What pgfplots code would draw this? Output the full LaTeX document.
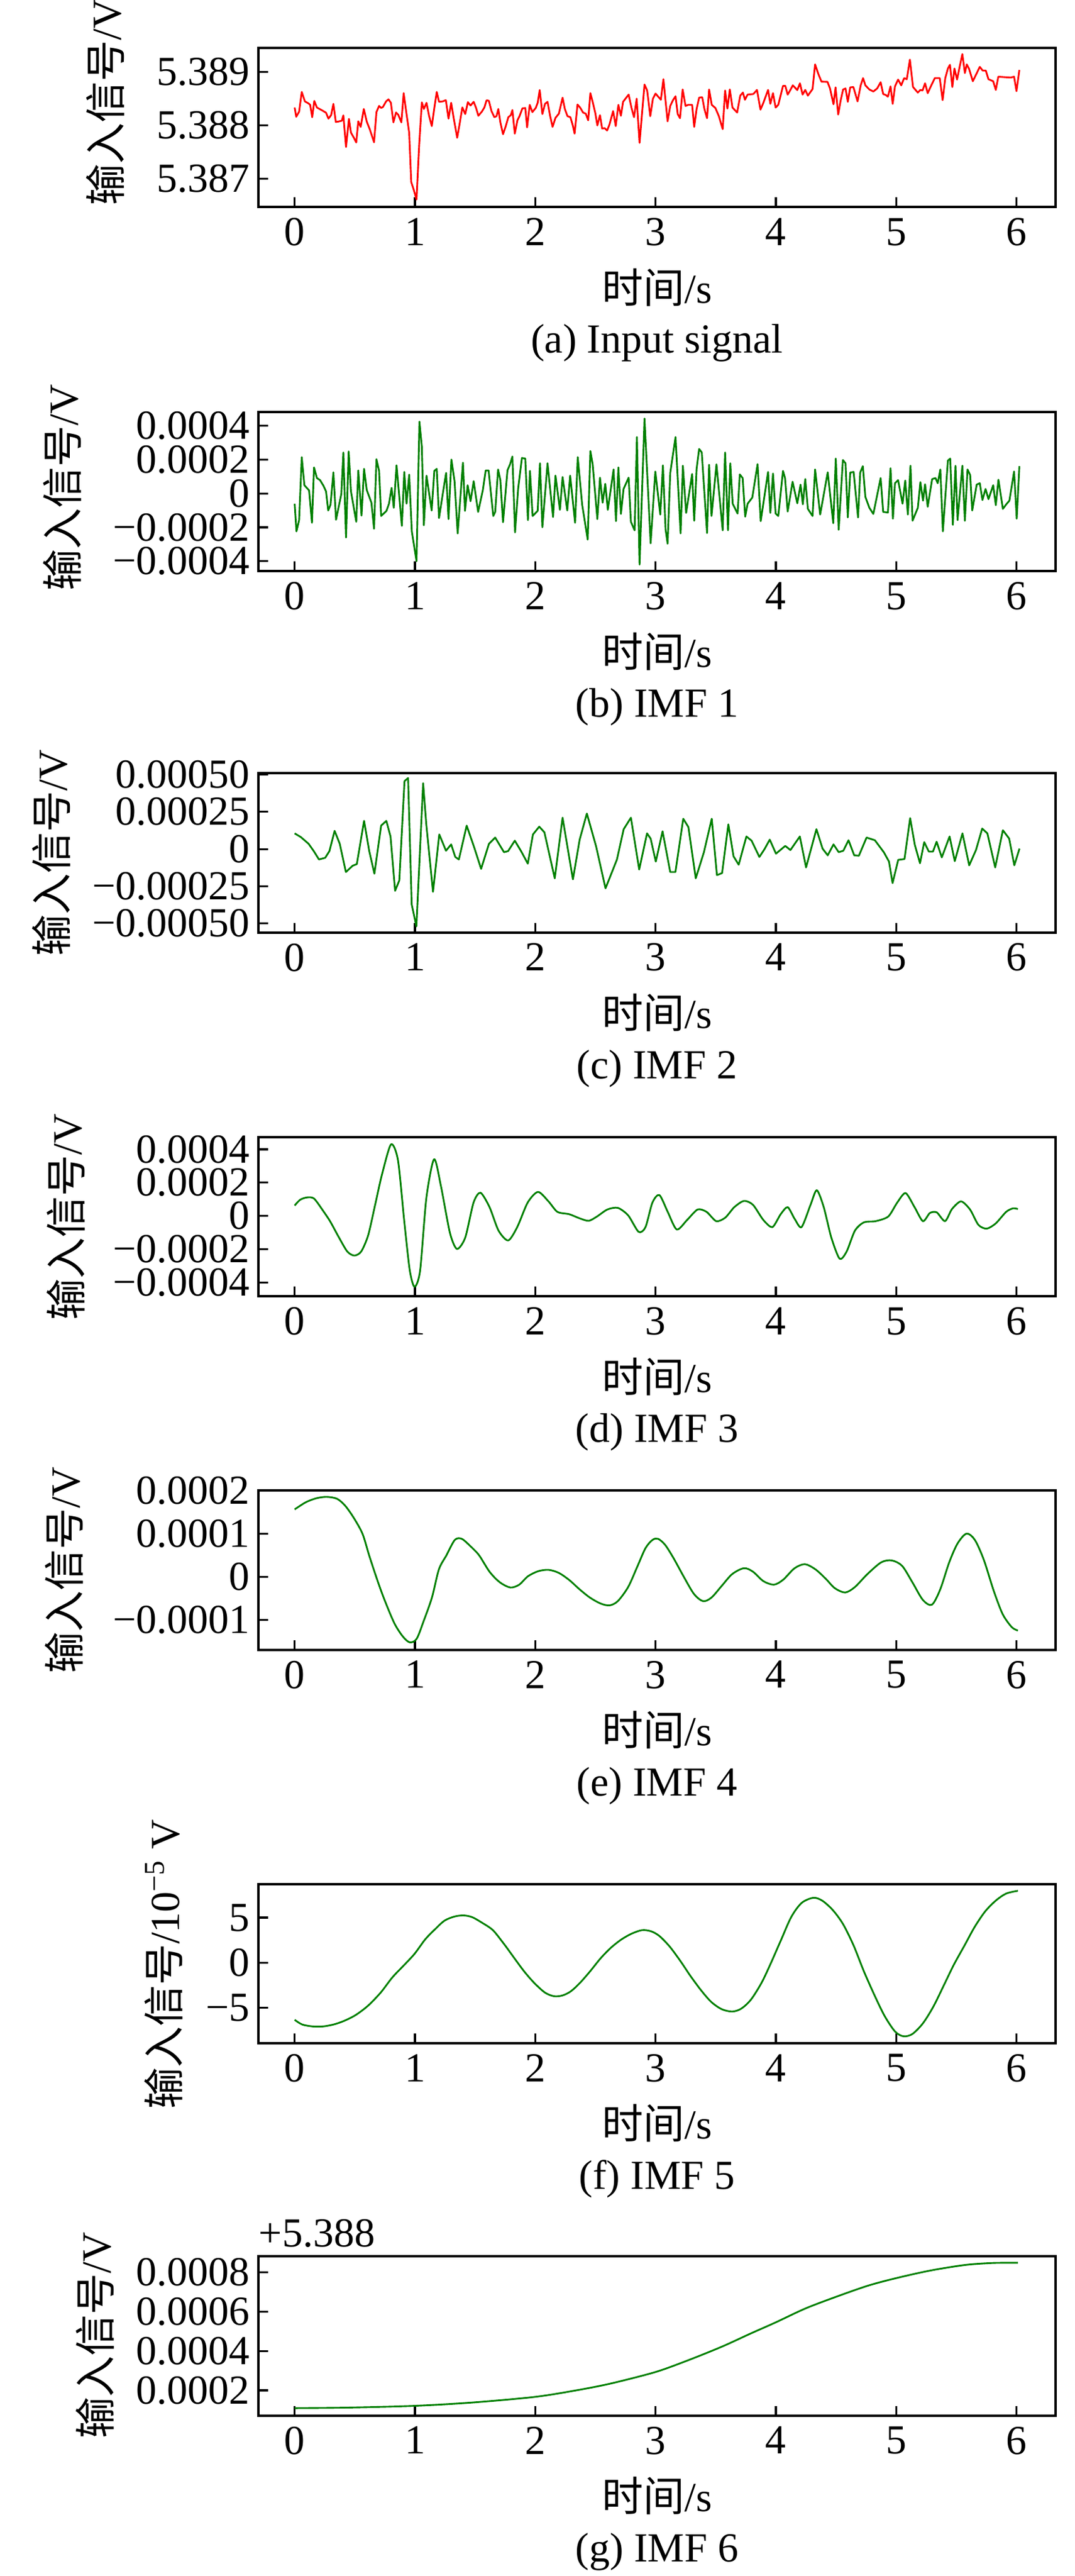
\documentclass[border=0pt]{standalone}
\usepackage{fontspec}
\setmainfont{Liberation Serif}
\newfontfamily\cjk{Noto Sans CJK SC}
\usepackage{pgfplots}
\pgfplotsset{compat=1.18}
\definecolor{mplred}{RGB}{255,0,0}
\definecolor{mplgreen}{RGB}{0,128,0}
\newcommand\F{\fontsize{17}{20}\selectfont}
\tikzset{subcap/.style={font=\F, anchor=center, yshift=-56pt}}
\pgfplotsset{
 myaxis/.style={
  width=328.5pt, height=65.6pt, scale only axis,
  anchor=north west, clip=false,
  xmin=-0.301, xmax=6.325,
  xtick={0,1,2,3,4,5,6}, xticklabels={0,1,2,3,4,5,6},
  tick align=inside, xtick pos=bottom, ytick pos=left,
  major tick length=4pt,
  tick style={black, line width=0.8pt},
  axis line style={line width=1pt},
  scaled ticks=false,
  tick label style={font=\F},
  xticklabel style={yshift=-1pt},
  label style={font=\F, inner sep=1pt},
  xlabel={{\cjk 时间}/s},
  xlabel style={at={(axis description cs:0.5,0)}, anchor=center, yshift=-33pt},
  every axis plot/.append style={line width=0.72pt, line join=round},
 },
}
\begin{document}
\begin{tikzpicture}
\useasboundingbox (0,0) rectangle (443pt,-1061.25pt);

% (a) Input signal
\begin{axis}[myaxis, at={(106.5pt,-19.75pt)},
  ymin=5.38647, ymax=5.38945,
  ytick={5.387,5.388,5.389}, yticklabels={5.387,5.388,5.389},
  ylabel={{\cjk 输入信号}/V},
  ylabel style={at={(axis description cs:-0.1918,0.66)}, anchor=center}]
\addplot[mplred] coordinates {
(0,5.388335) (0.013,5.388162) (0.037,5.388258) (0.059,5.388627) (0.085,5.388450) (0.115,5.388412) (0.129,5.388385) (0.146,5.388154) (0.163,5.388458) (0.185,5.388335)
(0.229,5.388281) (0.261,5.388238) (0.281,5.388127) (0.303,5.388192) (0.322,5.388404) (0.342,5.388065) (0.364,5.388073) (0.392,5.388088) (0.405,5.388188) (0.427,5.387596)
(0.451,5.388123) (0.468,5.387865) (0.495,5.387758) (0.512,5.387681) (0.529,5.388077) (0.549,5.387973) (0.575,5.388308) (0.599,5.388073) (0.625,5.387923) (0.660,5.387685)
(0.680,5.388250) (0.702,5.388365) (0.719,5.388327) (0.734,5.388346) (0.760,5.388450) (0.780,5.388488) (0.800,5.388423) (0.821,5.388058) (0.843,5.388242) (0.861,5.388200)
(0.887,5.388058) (0.906,5.388604) (0.930,5.388212) (0.952,5.387865) (0.969,5.386942) (0.991,5.386788) (1.013,5.386615) (1.035,5.387635) (1.057,5.388431) (1.074,5.388308)
(1.096,5.388423) (1.118,5.388173) (1.140,5.387988) (1.161,5.388327) (1.181,5.388627) (1.200,5.388442) (1.231,5.388450) (1.257,5.388473) (1.279,5.388127) (1.301,5.388423)
(1.322,5.388135) (1.351,5.387769) (1.372,5.388038) (1.394,5.388338) (1.418,5.388212) (1.440,5.388435) (1.462,5.388373) (1.488,5.388442) (1.508,5.388327) (1.527,5.388181)
(1.556,5.388258) (1.577,5.388335) (1.595,5.388469) (1.614,5.388462) (1.636,5.388269) (1.660,5.388154) (1.678,5.388173) (1.693,5.388308) (1.710,5.388058) (1.732,5.387835)
(1.754,5.387981) (1.776,5.388154) (1.797,5.388192) (1.810,5.388288) (1.830,5.387846) (1.852,5.388096) (1.869,5.388173) (1.893,5.388319) (1.917,5.388327) (1.932,5.387962)
(1.954,5.388385) (1.976,5.388250) (2.004,5.388327) (2.020,5.388423) (2.037,5.388662) (2.059,5.388212) (2.081,5.388404) (2.102,5.388442) (2.124,5.388173) (2.144,5.387973)
(2.168,5.388142) (2.196,5.388219) (2.211,5.388365) (2.227,5.388519) (2.246,5.388308) (2.268,5.388173) (2.292,5.388154) (2.312,5.388000) (2.327,5.387846) (2.351,5.388392)
(2.375,5.388327) (2.397,5.388242) (2.420,5.388219) (2.440,5.388096) (2.458,5.388604) (2.477,5.388442) (2.499,5.388231) (2.516,5.388000) (2.538,5.388192) (2.556,5.387942)
(2.577,5.387950) (2.597,5.387904) (2.617,5.388019) (2.647,5.388269) (2.669,5.387988) (2.691,5.388385) (2.712,5.388181) (2.730,5.388442) (2.756,5.388519) (2.776,5.388577)
(2.800,5.388327) (2.821,5.388154) (2.843,5.388500) (2.867,5.387673) (2.887,5.388212) (2.908,5.388765) (2.930,5.388654) (2.956,5.388173) (2.978,5.388500) (3.000,5.388596)
(3.022,5.388538) (3.044,5.388481) (3.065,5.388865) (3.100,5.388077) (3.122,5.388365) (3.145,5.388473) (3.166,5.388546) (3.184,5.388212) (3.203,5.388135) (3.225,5.388673)
(3.249,5.388365) (3.271,5.388385) (3.304,5.388385) (3.321,5.387973) (3.341,5.388308) (3.362,5.388519) (3.388,5.388527) (3.406,5.388308) (3.428,5.388135) (3.445,5.388673)
(3.467,5.388385) (3.497,5.388327) (3.526,5.388173) (3.558,5.387931) (3.578,5.388654) (3.597,5.388315) (3.617,5.388673) (3.639,5.388335) (3.678,5.388242) (3.704,5.388558)
(3.726,5.388615) (3.743,5.388481) (3.765,5.388577) (3.813,5.388588) (3.843,5.388665) (3.872,5.388296) (3.896,5.388423) (3.935,5.388665) (3.954,5.388404) (3.976,5.388604)
(3.998,5.388335) (4.020,5.388385) (4.059,5.388738) (4.078,5.388742) (4.098,5.388577) (4.118,5.388654) (4.141,5.388750) (4.178,5.388662) (4.200,5.388788) (4.222,5.388577)
(4.244,5.388665) (4.266,5.388558) (4.305,5.388681) (4.326,5.389142) (4.353,5.388962) (4.379,5.388819) (4.429,5.388815) (4.450,5.388692) (4.479,5.388396) (4.496,5.388712)
(4.518,5.388204) (4.538,5.388462) (4.559,5.388673) (4.579,5.388692) (4.598,5.388442) (4.618,5.388712) (4.644,5.388719) (4.679,5.388450) (4.705,5.388750) (4.725,5.388885)
(4.744,5.388750) (4.777,5.388673) (4.810,5.388635) (4.842,5.388692) (4.871,5.388808) (4.892,5.388588) (4.914,5.388569) (4.931,5.388538) (4.953,5.388731) (4.971,5.388404)
(4.990,5.388731) (5.016,5.388858) (5.042,5.388750) (5.066,5.388885) (5.088,5.388865) (5.114,5.389231) (5.140,5.388719) (5.180,5.388615) (5.201,5.388665) (5.219,5.388654)
(5.240,5.388788) (5.262,5.388604) (5.288,5.388731) (5.321,5.388885) (5.362,5.388885) (5.386,5.388473) (5.408,5.388885) (5.430,5.389065) (5.447,5.389135) (5.467,5.388719)
(5.484,5.389065) (5.506,5.388858) (5.528,5.389104) (5.550,5.389335) (5.571,5.388981) (5.587,5.389142) (5.606,5.389058) (5.637,5.388827) (5.670,5.388981) (5.695,5.389096)
(5.719,5.389027) (5.745,5.389027) (5.767,5.388865) (5.806,5.388827) (5.828,5.388665) (5.849,5.388912) (5.897,5.388904) (5.951,5.388896) (5.980,5.388912) (6.000,5.388642)
(6.024,5.389038)
};
\node[subcap] at (axis description cs:0.5,0) {(a) Input signal};
\end{axis}

% (b) IMF 1
\begin{axis}[myaxis, at={(106.5pt,-169.75pt)},
  ymin=-4.60e-4, ymax=4.81e-4,
  ytick={-0.0004,-0.0002,0,0.0002,0.0004},
  yticklabels={−0.0004,−0.0002,0,0.0002,0.0004},
  ylabel={{\cjk 输入信号}/V},
  ylabel style={at={(axis description cs:-0.2458,0.525)}, anchor=center}]
\addplot[mplgreen] coordinates {
(0,-0.606e-4) (0.015,-2.242e-4) (0.037,-1.576e-4) (0.059,2.145e-4) (0.081,0.485e-4) (0.120,0.182e-4) (0.144,-1.733e-4) (0.161,1.539e-4) (0.185,0.909e-4) (0.211,0.788e-4)
(0.240,0.448e-4) (0.261,0.121e-4) (0.279,-1.006e-4) (0.298,-0.667e-4) (0.322,1.248e-4) (0.344,-1.552e-4) (0.388,-0.036e-4) (0.405,2.424e-4) (0.427,-2.606e-4) (0.449,2.485e-4)
(0.468,0.121e-4) (0.512,-1.673e-4) (0.529,1.358e-4) (0.556,-1.309e-4) (0.577,1.455e-4) (0.599,0.206e-4) (0.638,-0.545e-4) (0.660,-2.085e-4) (0.680,2.024e-4) (0.702,1.333e-4)
(0.719,-1.333e-4) (0.763,-1.030e-4) (0.784,-0.606e-4) (0.806,0.327e-4) (0.824,-0.848e-4) (0.847,1.661e-4) (0.891,-1.915e-4) (0.911,1.273e-4) (0.930,-0.606e-4) (0.952,1.115e-4)
(0.974,-2.242e-4) (1.013,-4.000e-4) (1.037,4.242e-4) (1.057,2.788e-4) (1.074,-1.879e-4) (1.096,1.055e-4) (1.139,-1.006e-4) (1.161,1.333e-4) (1.181,1.455e-4) (1.200,-1.455e-4)
(1.237,0.242e-4) (1.259,1.212e-4) (1.279,-1.515e-4) (1.303,2.000e-4) (1.329,0.727e-4) (1.355,-2.364e-4) (1.399,1.818e-4) (1.416,-1.030e-4) (1.438,0.485e-4) (1.462,-0.461e-4)
(1.488,0.727e-4) (1.525,-1.091e-4) (1.564,0.182e-4) (1.588,1.358e-4) (1.612,1.358e-4) (1.651,-1.333e-4) (1.667,-1.091e-4) (1.691,1.418e-4) (1.710,0.788e-4) (1.732,-1.697e-4)
(1.769,1.370e-4) (1.791,1.733e-4) (1.810,2.182e-4) (1.832,-2.303e-4) (1.858,0.303e-4) (1.889,2.097e-4) (1.917,2.061e-4) (1.939,-1.576e-4) (1.956,1.333e-4) (1.978,-1.333e-4)
(2.020,-1.030e-4) (2.039,1.782e-4) (2.059,-2.000e-4) (2.102,1.782e-4) (2.148,-1.394e-4) (2.168,1.055e-4) (2.205,-0.970e-4) (2.227,0.970e-4) (2.266,-1.006e-4) (2.290,1.055e-4)
(2.331,-1.733e-4) (2.353,2.145e-4) (2.390,-0.667e-4) (2.436,-2.727e-4) (2.458,2.509e-4) (2.477,1.733e-4) (2.516,-1.515e-4) (2.538,0.933e-4) (2.560,-0.545e-4) (2.582,0.570e-4)
(2.603,-0.970e-4) (2.651,1.418e-4) (2.671,-1.636e-4) (2.691,1.539e-4) (2.712,-1.212e-4) (2.734,0.267e-4) (2.776,0.933e-4) (2.795,-1.673e-4) (2.826,-2.182e-4) (2.845,3.333e-4)
(2.867,-4.206e-4) (2.908,4.424e-4) (2.959,-2.945e-4) (2.998,1.297e-4) (3.039,-1.248e-4) (3.061,1.661e-4) (3.083,-2.121e-4) (3.100,-2.970e-4) (3.122,1.212e-4) (3.166,3.333e-4)
(3.208,-2.364e-4) (3.227,1.636e-4) (3.254,-1.152e-4) (3.304,1.152e-4) (3.321,-1.612e-4) (3.341,1.455e-4) (3.362,2.630e-4) (3.384,2.424e-4) (3.428,-2.339e-4) (3.445,1.697e-4)
(3.465,-1.333e-4) (3.506,1.721e-4) (3.558,-2.182e-4) (3.578,2.424e-4) (3.602,-2.182e-4) (3.621,1.782e-4) (3.641,-0.606e-4) (3.682,-1.188e-4) (3.700,1.127e-4) (3.724,0.909e-4)
(3.745,-1.370e-4) (3.765,-0.606e-4) (3.804,-0.242e-4) (3.848,1.733e-4) (3.874,-1.636e-4) (3.935,1.273e-4) (3.954,-1.152e-4) (3.976,1.176e-4) (3.998,-1.188e-4) (4.020,-1.333e-4)
(4.059,1.333e-4) (4.076,0.909e-4) (4.098,-1.067e-4) (4.139,0.691e-4) (4.178,-0.582e-4) (4.205,0.521e-4) (4.224,-0.642e-4) (4.244,0.848e-4) (4.266,-0.909e-4) (4.305,-1.333e-4)
(4.326,1.418e-4) (4.368,-1.248e-4) (4.431,1.248e-4) (4.477,-1.758e-4) (4.498,2.061e-4) (4.522,-2.145e-4) (4.557,1.976e-4) (4.579,1.782e-4) (4.598,-1.418e-4) (4.618,1.236e-4)
(4.646,1.273e-4) (4.683,-1.418e-4) (4.701,1.236e-4) (4.723,1.612e-4) (4.744,-0.206e-4) (4.777,-0.848e-4) (4.810,-1.212e-4) (4.871,0.909e-4) (4.892,-1.091e-4) (4.931,-1.127e-4)
(4.953,1.491e-4) (4.973,-1.491e-4) (4.990,0.606e-4) (5.016,0.788e-4) (5.053,-0.606e-4) (5.075,0.764e-4) (5.097,-1.248e-4) (5.119,1.636e-4) (5.136,-1.612e-4) (5.180,-0.848e-4)
(5.201,0.667e-4) (5.223,-0.424e-4) (5.240,0.545e-4) (5.262,-0.788e-4) (5.299,0.848e-4) (5.327,0.909e-4) (5.345,0.606e-4) (5.367,1.418e-4) (5.388,-2.242e-4) (5.430,1.939e-4)
(5.449,2.061e-4) (5.471,-1.855e-4) (5.493,1.636e-4) (5.510,-1.576e-4) (5.550,1.636e-4) (5.571,-1.612e-4) (5.593,1.418e-4) (5.615,1.091e-4) (5.632,-1.006e-4) (5.669,0.521e-4)
(5.695,0.606e-4) (5.717,-0.388e-4) (5.743,0.267e-4) (5.767,-0.339e-4) (5.806,0.485e-4) (5.828,-0.691e-4) (5.850,0.812e-4) (5.887,-0.909e-4) (5.915,-0.642e-4) (5.941,-0.424e-4)
(5.980,1.297e-4) (6.002,-1.491e-4) (6.024,1.612e-4)
};
\node[subcap] at (axis description cs:0.5,0) {(b) IMF 1};
\end{axis}

% (c) IMF 2
\begin{axis}[myaxis, at={(106.5pt,-318.6pt)},
  ymin=-5.61e-4, ymax=5.08e-4,
  ytick={-0.0005,-0.00025,0,0.00025,0.0005},
  yticklabels={−0.00050,−0.00025,0,0.00025,0.00050},
  ylabel={{\cjk 输入信号}/V},
  ylabel style={at={(axis description cs:-0.2595,0.502)}, anchor=center}]
\addplot[mplgreen] coordinates {
(0,1.052e-4) (0.052,0.799e-4) (0.116,0.351e-4) (0.159,-0.140e-4) (0.202,-0.701e-4) (0.254,-0.589e-4) (0.289,-0.140e-4) (0.332,1.220e-4) (0.375,0.351e-4) (0.426,-1.543e-4)
(0.482,-1.122e-4) (0.517,-1.010e-4) (0.577,1.893e-4) (0.620,-0.140e-4) (0.663,-1.655e-4) (0.719,1.571e-4) (0.762,1.893e-4) (0.797,0.842e-4) (0.835,-2.805e-4) (0.870,-2.104e-4)
(0.913,4.558e-4) (0.943,4.769e-4) (0.973,-3.717e-4) (1.012,-5.189e-4) (1.068,4.418e-4) (1.094,1.683e-4) (1.150,-2.875e-4) (1.202,0.982e-4) (1.258,-0.112e-4) (1.301,0.309e-4)
(1.335,-0.533e-4) (1.365,-0.701e-4) (1.430,1.571e-4) (1.494,0.070e-4) (1.550,-1.332e-4) (1.615,0.351e-4) (1.667,0.771e-4) (1.740,-0.210e-4) (1.774,-0.140e-4) (1.830,0.561e-4)
(1.882,-0.140e-4) (1.938,-0.982e-4) (1.981,0.982e-4) (2.033,1.501e-4) (2.076,1.122e-4) (2.162,-1.964e-4) (2.227,2.104e-4) (2.313,-2.034e-4) (2.369,0.631e-4) (2.429,2.384e-4)
(2.506,0.168e-4) (2.584,-2.637e-4) (2.679,-0.701e-4) (2.735,1.332e-4) (2.795,2.104e-4) (2.864,-1.374e-4) (2.929,1.052e-4) (2.959,0.701e-4) (3.002,-0.842e-4) (3.058,1.192e-4)
(3.122,-1.543e-4) (3.165,-1.543e-4) (3.230,2.034e-4) (3.273,1.473e-4) (3.334,-1.964e-4) (3.402,-0.210e-4) (3.467,2.034e-4) (3.510,-1.753e-4) (3.553,-1.613e-4) (3.605,1.655e-4)
(3.648,-0.491e-4) (3.691,-1.052e-4) (3.755,0.842e-4) (3.798,0.561e-4) (3.863,-0.533e-4) (3.906,0) (3.949,0.631e-4) (4.001,-0.309e-4) (4.078,0.210e-4) (4.121,-0.070e-4)
(4.199,0.842e-4) (4.251,-1.234e-4) (4.337,1.332e-4) (4.388,0.028e-4) (4.431,-0.421e-4) (4.479,0.309e-4) (4.522,-0.210e-4) (4.561,-0.112e-4) (4.604,0.589e-4) (4.651,-0.421e-4)
(4.690,-0.449e-4) (4.754,0.771e-4) (4.823,0.589e-4) (4.897,-0.210e-4) (4.940,-0.842e-4) (4.970,-2.286e-4) (5.017,-0.729e-4) (5.069,-0.673e-4) (5.116,2.076e-4) (5.155,0.281e-4)
(5.198,-0.954e-4) (5.233,0.463e-4) (5.271,-0.168e-4) (5.306,-0.168e-4) (5.336,0.491e-4) (5.379,-0.561e-4) (5.444,0.842e-4) (5.487,-0.813e-4) (5.551,1.052e-4) (5.607,-1.094e-4)
(5.663,-0.070e-4) (5.715,1.374e-4) (5.758,1.052e-4) (5.823,-1.234e-4) (5.887,1.262e-4) (5.939,0.701e-4) (5.982,-1.094e-4) (6.025,0.028e-4)
};
\node[subcap] at (axis description cs:0.5,0) {(c) IMF 2};
\end{axis}

% (d) IMF 3
\begin{axis}[myaxis, at={(106.5pt,-468.5pt)},
  ymin=-4.85e-4, ymax=4.73e-4,
  ytick={-0.0004,-0.0002,0,0.0002,0.0004},
  yticklabels={−0.0004,−0.0002,0,0.0002,0.0004},
  ylabel={{\cjk 输入信号}/V},
  ylabel style={at={(axis description cs:-0.2413,0.50)}, anchor=center}]
\addplot[mplgreen, smooth, tension=0.45] coordinates {
(0,0.62e-4) (0.046,0.97e-4) (0.104,1.11e-4) (0.161,1.04e-4) (0.236,0.31e-4) (0.294,-0.32e-4) (0.369,-1.31e-4) (0.438,-2.15e-4) (0.496,-2.39e-4) (0.553,-2.15e-4)
(0.611,-1.17e-4) (0.669,0.66e-4) (0.726,2.49e-4) (0.801,4.30e-4) (0.859,3.34e-4) (0.911,-0.32e-4) (0.957,-3.28e-4) (0.997,-4.27e-4) (1.043,-3.28e-4) (1.095,1.08e-4)
(1.159,3.41e-4) (1.216,1.79e-4) (1.291,-1.03e-4) (1.349,-1.99e-4) (1.418,-1.31e-4) (1.487,0.80e-4) (1.545,1.39e-4) (1.620,0.52e-4) (1.695,-0.89e-4) (1.775,-1.48e-4)
(1.850,-0.68e-4) (1.937,0.80e-4) (2.023,1.44e-4) (2.110,0.87e-4) (2.184,0.24e-4) (2.282,0.10e-4) (2.369,-0.15e-4) (2.444,-0.30e-4) (2.513,-0.04e-4) (2.599,0.38e-4)
(2.686,0.48e-4) (2.772,0.03e-4) (2.859,-0.96e-4) (2.916,-0.68e-4) (2.974,0.80e-4) (3.032,1.25e-4) (3.101,0.24e-4) (3.176,-0.82e-4) (3.262,-0.25e-4) (3.349,0.38e-4)
(3.424,0.24e-4) (3.504,-0.32e-4) (3.579,-0.11e-4) (3.654,0.52e-4) (3.735,0.90e-4) (3.810,0.66e-4) (3.896,-0.25e-4) (3.971,-0.68e-4) (4.040,0.10e-4) (4.098,0.52e-4)
(4.156,-0.18e-4) (4.213,-0.68e-4) (4.288,0.66e-4) (4.340,1.54e-4) (4.398,0.52e-4) (4.461,-1.31e-4) (4.530,-2.58e-4) (4.588,-2.15e-4) (4.657,-0.89e-4) (4.732,-0.39e-4)
(4.830,-0.32e-4) (4.934,-0.04e-4) (5.009,0.80e-4) (5.078,1.37e-4) (5.153,0.52e-4) (5.222,-0.32e-4) (5.280,0.17e-4) (5.337,0.21e-4) (5.406,-0.32e-4) (5.464,0.41e-4)
(5.539,0.87e-4) (5.614,0.38e-4) (5.683,-0.54e-4) (5.752,-0.77e-4) (5.827,-0.46e-4) (5.914,0.24e-4) (5.971,0.45e-4) (6.012,0.41e-4)
};
\node[subcap] at (axis description cs:0.5,0) {(d) IMF 3};
\end{axis}

% (e) IMF 4
\begin{axis}[myaxis, at={(106.5pt,-614.1pt)},
  ymin=-1.694e-4, ymax=2.003e-4,
  ytick={-0.0001,0,0.0001,0.0002},
  yticklabels={−0.0001,0,0.0001,0.0002},
  ylabel={{\cjk 输入信号}/V},
  ylabel style={at={(axis description cs:-0.2435,0.502)}, anchor=center}]
\addplot[mplgreen, smooth, tension=0.5] coordinates {
(0,1.568e-4) (0.092,1.732e-4) (0.179,1.825e-4) (0.265,1.858e-4) (0.352,1.814e-4) (0.421,1.650e-4) (0.496,1.350e-4) (0.565,0.995e-4) (0.622,0.475e-4) (0.697,-0.153e-4)
(0.755,-0.590e-4) (0.830,-1.082e-4) (0.899,-1.383e-4) (0.957,-1.519e-4) (1.014,-1.437e-4) (1.072,-1.027e-4) (1.141,-0.481e-4) (1.199,0.175e-4) (1.262,0.503e-4) (1.331,0.858e-4)
(1.389,0.885e-4) (1.458,0.721e-4) (1.533,0.503e-4) (1.620,0.120e-4) (1.706,-0.126e-4) (1.793,-0.246e-4) (1.867,-0.180e-4) (1.937,0.011e-4) (2.023,0.131e-4) (2.110,0.164e-4)
(2.196,0.093e-4) (2.282,-0.071e-4) (2.369,-0.290e-4) (2.455,-0.481e-4) (2.542,-0.617e-4) (2.617,-0.661e-4) (2.686,-0.563e-4) (2.772,-0.235e-4) (2.847,0.230e-4) (2.916,0.667e-4)
(2.974,0.858e-4) (3.020,0.885e-4) (3.078,0.749e-4) (3.147,0.448e-4) (3.233,0.011e-4) (3.320,-0.399e-4) (3.395,-0.563e-4) (3.464,-0.481e-4) (3.550,-0.208e-4) (3.637,0.066e-4)
(3.735,0.202e-4) (3.810,0.120e-4) (3.896,-0.098e-4) (3.983,-0.180e-4) (4.058,-0.071e-4) (4.156,0.202e-4) (4.242,0.295e-4) (4.329,0.175e-4) (4.415,-0.044e-4) (4.490,-0.262e-4)
(4.576,-0.361e-4) (4.657,-0.235e-4) (4.761,0.066e-4) (4.876,0.339e-4) (4.963,0.383e-4) (5.049,0.257e-4) (5.135,-0.126e-4) (5.222,-0.536e-4) (5.297,-0.645e-4) (5.366,-0.290e-4)
(5.441,0.339e-4) (5.510,0.776e-4) (5.585,1.005e-4) (5.654,0.858e-4) (5.729,0.393e-4) (5.810,-0.317e-4) (5.885,-0.863e-4) (5.960,-1.164e-4) (6.012,-1.246e-4)
};
\node[subcap] at (axis description cs:0.5,0) {(e) IMF 4};
\end{axis}

% (f) IMF 5
\begin{axis}[myaxis, at={(106.5pt,-776.2pt)},
  ymin=-8.95, ymax=8.72,
  ytick={-5,0,5}, yticklabels={−5,0,5},
  ylabel={{\cjk 输入信号}/10\textsuperscript{−5} V},
  ylabel style={at={(axis description cs:-0.1187,0.496)}, anchor=center}]
\addplot[mplgreen, smooth, tension=0.5] coordinates {
(0,-6.34) (0.063,-6.86) (0.150,-7.07) (0.236,-7.07) (0.323,-6.86) (0.409,-6.47) (0.507,-5.81) (0.611,-4.76) (0.715,-3.32) (0.813,-1.62)
(0.916,-0.18) (0.997,0.99) (1.084,2.57) (1.159,3.61) (1.245,4.66) (1.331,5.13) (1.406,5.24) (1.476,5.05) (1.562,4.40) (1.648,3.61)
(1.735,2.17) (1.821,0.60) (1.908,-0.97) (1.994,-2.28) (2.081,-3.32) (2.156,-3.72) (2.225,-3.64) (2.294,-3.19) (2.369,-2.28) (2.455,-0.97)
(2.542,0.47) (2.628,1.65) (2.715,2.57) (2.801,3.22) (2.888,3.61) (2.963,3.48) (3.032,2.96) (3.118,1.78) (3.205,0.21) (3.291,-1.49)
(3.378,-3.06) (3.464,-4.37) (3.550,-5.16) (3.637,-5.42) (3.712,-5.10) (3.792,-4.11) (3.879,-2.28) (3.954,-0.18) (4.040,2.43) (4.127,5.05)
(4.213,6.62) (4.311,7.20) (4.386,6.88) (4.473,5.84) (4.559,4.27) (4.646,1.91) (4.732,-0.97) (4.819,-3.59) (4.905,-5.94) (4.991,-7.64)
(5.061,-8.17) (5.135,-7.91) (5.222,-6.73) (5.308,-4.90) (5.395,-2.54) (5.481,-0.18) (5.568,1.91) (5.654,4.01) (5.741,5.71) (5.827,6.88)
(5.914,7.67) (6.012,7.98)
};
\node[subcap] at (axis description cs:0.5,0) {(f) IMF 5};
\end{axis}

% (g) IMF 6
\begin{axis}[myaxis, at={(106.5pt,-929.6pt)},
  ymin=0.71e-4, ymax=8.81e-4,
  ytick={0.0002,0.0004,0.0006,0.0008},
  yticklabels={0.0002,0.0004,0.0006,0.0008},
  ylabel={{\cjk 输入信号}/V},
  ylabel style={at={(axis description cs:-0.2047,0.504)}, anchor=center}]
\addplot[mplgreen, smooth, tension=0.5] coordinates {
(0,1.097e-4) (0.438,1.123e-4) (0.997,1.213e-4) (1.476,1.381e-4) (1.994,1.665e-4) (2.340,2.000e-4) (2.628,2.348e-4) (2.997,2.929e-4) (3.262,3.510e-4) (3.550,4.219e-4)
(3.781,4.865e-4) (3.994,5.445e-4) (4.242,6.155e-4) (4.473,6.697e-4) (4.761,7.316e-4) (4.997,7.703e-4) (5.280,8.090e-4) (5.568,8.374e-4) (5.798,8.477e-4) (6.012,8.490e-4)
};
\node[font=\F, anchor=base west, inner sep=0pt] at (axis description cs:0,1) [yshift=4pt] {+5.388};
\node[subcap] at (axis description cs:0.5,0) {(g) IMF 6};
\end{axis}
\end{tikzpicture}
\end{document}
